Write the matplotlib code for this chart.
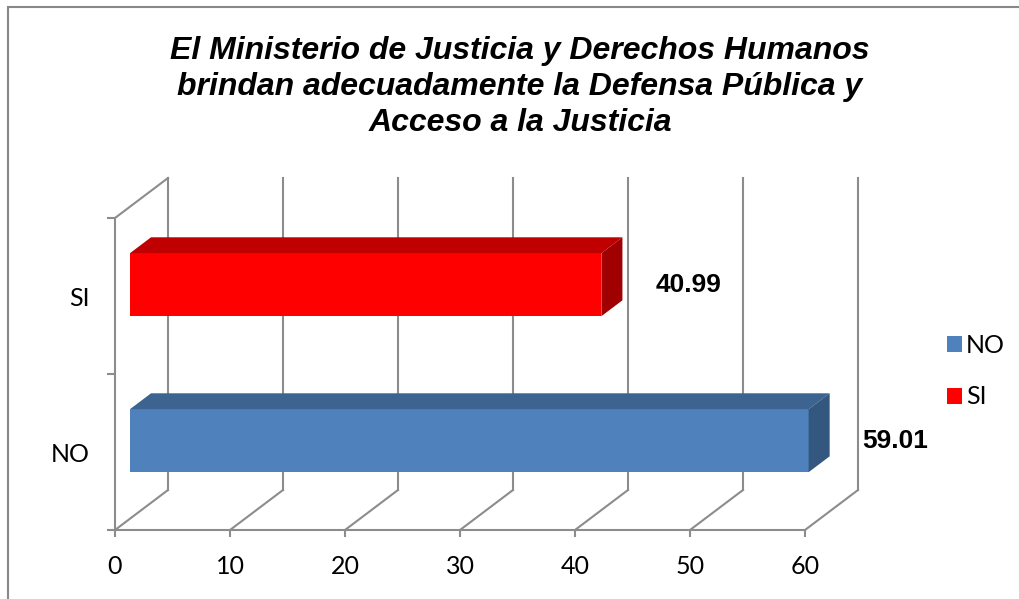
import matplotlib.pyplot as plt
from matplotlib.patches import Polygon, Patch, Rectangle

categorias = ['NO', 'SI']
valores = [59.01, 40.99]
etiquetas = ['59.01', '40.99']
cara_frente = ['#4F81BD', '#FF0000']
cara_arriba = ['#3D6390', '#C00000']
cara_lado = ['#34577F', '#A00000']
ticks_x = [0, 10, 20, 30, 40, 50, 60]

titulo = ("El Ministerio de Justicia y Derechos Humanos\n"
          "brindan adecuadamente la Defensa Pública y\n"
          "Acceso a la Justicia")

W, H = 1020, 599
fig = plt.figure(figsize=(W / 100, H / 100), dpi=100)

# marco exterior
fig.patches.append(Rectangle((8 / W, -0.1), 1.2, 1 - 7 / H + 0.1, transform=fig.transFigure,
                             fill=False, edgecolor='#888888', lw=1.5))

# plano frontal del grafico (en pixeles)
x0_px, x1_px, yb_px, yt_px = 115, 805, 530, 218
ax = fig.add_axes([x0_px / W, (H - yb_px) / H, (x1_px - x0_px) / W, (yb_px - yt_px) / H])
ax.set_xlim(0, 60)
ax.set_ylim(0, 2)
ax.patch.set_visible(False)

gris = '#8C8C8C'
# profundidad de la pared (en unidades de datos)
px_x = (x1_px - x0_px) / 60
px_y = (yb_px - yt_px) / 2
prof_x = 53 / px_x
prof_y = 40 / px_y

# pared del fondo y piso
for v in ticks_x:
    ax.plot([v + prof_x, v + prof_x], [prof_y, 2 + prof_y], color=gris, lw=1.5, clip_on=False, zorder=1)
    ax.plot([v, v + prof_x], [0, prof_y], color=gris, lw=1.5, clip_on=False, zorder=1)
ax.plot([0, prof_x], [2, 2 + prof_y], color=gris, lw=1.5, clip_on=False, zorder=1)

# barras 3D
f1 = 0.283
f2 = 0.68
alto = 0.404
for i, (cat, val) in enumerate(zip(categorias, valores)):
    xa = f1 * prof_x
    xb = xa + val
    yc = i + 0.5 + f1 * prof_y
    ya, yt = yc - alto / 2, yc + alto / 2
    dx = (f2 - f1) * prof_x
    dy = (f2 - f1) * prof_y
    ax.add_patch(Polygon([(xa, ya), (xb, ya), (xb, yt), (xa, yt)], closed=True,
                         facecolor=cara_frente[i], edgecolor='none', clip_on=False, zorder=3))
    ax.add_patch(Polygon([(xa, yt), (xb, yt), (xb + dx, yt + dy), (xa + dx, yt + dy)], closed=True,
                         facecolor=cara_arriba[i], edgecolor='none', clip_on=False, zorder=3))
    ax.add_patch(Polygon([(xb, ya), (xb, yt), (xb + dx, yt + dy), (xb + dx, ya + dy)], closed=True,
                         facecolor=cara_lado[i], edgecolor='none', clip_on=False, zorder=3))
    ax.text(val + 6.0, yc, etiquetas[i], ha='left', va='center', fontsize=19,
            fontweight='bold', family='Liberation Sans', zorder=4)

# ejes
for s in ['top', 'right']:
    ax.spines[s].set_visible(False)
for s in ['left', 'bottom']:
    ax.spines[s].set_color(gris)
    ax.spines[s].set_linewidth(1.5)
    ax.spines[s].set_zorder(2)

ax.set_xticks(ticks_x)
ax.set_xticklabels([str(t) for t in ticks_x], family='Lato', fontsize=18)
ax.tick_params(axis='x', direction='out', length=5, width=1.5, color=gris, pad=13)
ax.set_yticks([0, 1, 2])
ax.set_yticklabels([])
ax.tick_params(axis='y', which='major', direction='out', length=6, width=1.5, color=gris)
ax.set_yticks([0.5, 1.5], minor=True)
ax.set_yticklabels(categorias, minor=True, family='Lato', fontsize=18)
ax.tick_params(axis='y', which='minor', length=0, pad=18)

# titulo
fig.text(520 / W, 1 - 87 / H, titulo, ha='center', va='center', fontsize=23,
         fontweight='bold', fontstyle='italic', family='Liberation Sans', linespacing=1.25)

# leyenda
manejadores = [Patch(facecolor=cara_frente[i], edgecolor='none', label=categorias[i]) for i in range(2)]
fig.legend(handles=manejadores, loc='center left', bbox_to_anchor=(925 / W, 1 - 371 / H),
           frameon=False, prop={'family': 'Lato', 'size': 18}, handlelength=0.6,
           handleheight=0.6, handletextpad=0.15, labelspacing=1.15)

fig.savefig('out.png', dpi=100)
